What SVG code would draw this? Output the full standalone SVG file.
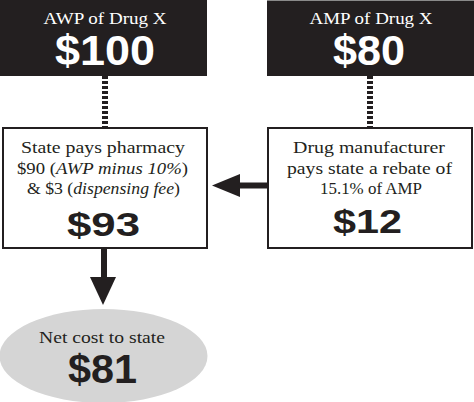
<svg xmlns="http://www.w3.org/2000/svg" width="474" height="402" viewBox="0 0 474 402">
<defs>
<style>
.dark{fill:#231f20}
.box{fill:#ffffff;stroke:#231f20;stroke-width:2}
.ser{font-family:"Liberation Serif","Times New Roman",serif;font-size:17px}
.lab{fill:#ffffff}
.txt{fill:#231f20}
.big{font-family:"Liberation Sans",Arial,sans-serif;font-weight:bold}
.dash{stroke:#231f20;stroke-width:6;stroke-dasharray:3 2;fill:none}
.shaft{stroke:#231f20;stroke-width:6;fill:none}
.head{fill:#231f20}
</style>
</defs>
<rect width="474" height="402" fill="#ffffff"/>
<g id="connectors">
<line class="dash" x1="105" y1="76" x2="105" y2="127"/>
<line class="dash" x1="370" y1="76" x2="370" y2="127"/>
<line class="shaft" x1="268" y1="185.5" x2="236" y2="185.5"/>
<polygon class="head" points="212,185.5 240,174 240,197"/>
<line class="shaft" x1="104" y1="249" x2="104" y2="280"/>
<polygon class="head" points="90,277 116,277 103,305"/>
</g>
<g id="awp">
<rect class="dark" x="0" y="0" width="207" height="76"/>
<text class="ser lab" x="105" y="24" font-size="18" text-anchor="middle" textLength="123" lengthAdjust="spacingAndGlyphs">AWP of Drug X</text>
<text class="big lab" x="105" y="65" font-size="42" text-anchor="middle" textLength="100" lengthAdjust="spacingAndGlyphs">$100</text>
</g>
<g id="amp">
<rect class="dark" x="267" y="0" width="207" height="76"/>
<line x1="267" y1="0.5" x2="474" y2="0.5" stroke="#8a8a8a" stroke-width="1"/>
<text class="ser lab" x="371" y="24" font-size="18" text-anchor="middle" textLength="123" lengthAdjust="spacingAndGlyphs">AMP of Drug X</text>
<text class="big lab" x="369" y="65" font-size="42" text-anchor="middle" textLength="72" lengthAdjust="spacingAndGlyphs">$80</text>
</g>
<g id="state-pays">
<rect class="box" x="3" y="128" width="204" height="120"/>
<text class="ser txt" x="103" y="153" text-anchor="middle" textLength="164" lengthAdjust="spacingAndGlyphs">State pays pharmacy</text>
<text class="ser txt" x="102.5" y="174" text-anchor="middle" textLength="171" lengthAdjust="spacingAndGlyphs">$90 (<tspan font-style="italic">AWP minus 10%</tspan>)</text>
<text class="ser txt" x="103.5" y="194" text-anchor="middle" textLength="153" lengthAdjust="spacingAndGlyphs">&amp; $3 (<tspan font-style="italic">dispensing fee</tspan>)</text>
<text class="big txt" x="103.5" y="236" font-size="34" text-anchor="middle" textLength="73" lengthAdjust="spacingAndGlyphs">$93</text>
</g>
<g id="rebate">
<rect class="box" x="268" y="128" width="204" height="120"/>
<text class="ser txt" x="369" y="153" text-anchor="middle" textLength="152" lengthAdjust="spacingAndGlyphs">Drug manufacturer</text>
<text class="ser txt" x="369.5" y="174" text-anchor="middle" textLength="165" lengthAdjust="spacingAndGlyphs">pays state a rebate of</text>
<text class="ser txt" x="371" y="194" text-anchor="middle" textLength="102" lengthAdjust="spacingAndGlyphs">15.1% of AMP</text>
<text class="big txt" x="367.5" y="233" font-size="34" text-anchor="middle" textLength="69" lengthAdjust="spacingAndGlyphs">$12</text>
</g>
<g id="net-cost">
<ellipse cx="103.5" cy="356" rx="104" ry="47" fill="#d5d5d5"/>
<text class="ser txt" x="102" y="343" font-size="18" text-anchor="middle" textLength="126" lengthAdjust="spacingAndGlyphs">Net cost to state</text>
<text class="big txt" x="102.5" y="383" font-size="40" text-anchor="middle" textLength="69" lengthAdjust="spacingAndGlyphs">$81</text>
</g>
</svg>
